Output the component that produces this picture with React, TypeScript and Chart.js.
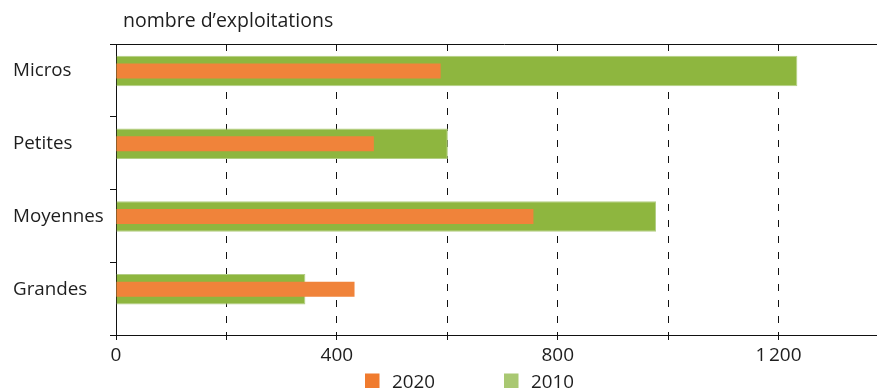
import React, { useEffect, useRef } from "react";
import { Chart, registerables } from "chart.js";

Chart.register(...registerables);

const categories = ["Micros", "Petites", "Moyennes", "Grandes"];
const values2020 = [588, 467, 756, 432];
const values2010 = [1234, 601, 978, 343];
const seriesLabels = ["2020", "2010"];
const axisTitle = "nombre d\u2019exploitations";
const tickStep = 200;
const labelStep = 400;
const xMax = 1400;

const FONT = "'Open Sans'";
const TEXT = "#1e1e1e";
const GREEN = "#8EB63F";
const GREEN_EDGE = "#B3CE84";
const ORANGE = "#F0833A";
const LEGEND_GREEN = "#A9C872";
const LEGEND_ORANGE = "#F07B2E";
const BAR_SHIFT = -9.4;

function fmt(v: number): string {
  const s = String(Math.round(v));
  return s.replace(/\B(?=(\d{3})+(?!\d))/g, "\u202F");
}

export default function App() {
  const ref = useRef<HTMLCanvasElement | null>(null);
  useEffect(() => {
    if (!ref.current) return;
    const shiftBars = {
      id: "shiftBars",
      afterDatasetsUpdate(chart: any) {
        chart.getSortedVisibleDatasetMetas().forEach((meta: any) => {
          meta.data.forEach((el: any) => {
            el.y += BAR_SHIFT;
          });
        });
      },
    };
    const decor = {
      id: "decor",
      afterDraw(chart: any) {
        const ctx = chart.ctx;
        const a = chart.chartArea;
        ctx.save();
        ctx.strokeStyle = "#111";
        ctx.lineWidth = 1;
        ctx.beginPath();
        ctx.moveTo(a.left, Math.round(a.top) + 0.5);
        ctx.lineTo(chart.width, Math.round(a.top) + 0.5);
        ctx.stroke();
        ctx.fillStyle = TEXT;
        ctx.font = `19.5px ${FONT}`;
        ctx.textBaseline = "alphabetic";
        ctx.textAlign = "left";
        ctx.fillText(axisTitle, a.left + 7, 27);
        const items = [
          { label: seriesLabels[0], color: LEGEND_ORANGE, x: 365 },
          { label: seriesLabels[1], color: LEGEND_GREEN, x: 504 },
        ];
        for (const it of items) {
          ctx.fillStyle = it.color;
          ctx.fillRect(it.x, 373.5, 14.5, 14.5);
          ctx.fillStyle = TEXT;
          ctx.font = `18.8px ${FONT}`;
          ctx.fillText(it.label, it.x + 27, 387.5);
        }
        ctx.restore();
      },
    };
    const chart = new Chart(ref.current, {
      type: "bar",
      data: {
        labels: categories,
        datasets: [
          {
            label: seriesLabels[0],
            data: values2020,
            backgroundColor: ORANGE,
            borderWidth: 0,
            barPercentage: 0.207,
            categoryPercentage: 1,
            grouped: false,
          },
          {
            label: seriesLabels[1],
            data: values2010,
            backgroundColor: GREEN,
            borderColor: GREEN_EDGE,
            borderWidth: 1,
            barPercentage: 0.417,
            categoryPercentage: 1,
            grouped: false,
          },
        ],
      },
      options: {
        indexAxis: "y",
        animation: false,
        responsive: false,
        maintainAspectRatio: false,
        layout: { padding: { left: 13, top: 44, right: 0, bottom: 0 } },
        plugins: {
          legend: { display: false },
          tooltip: { enabled: false },
          title: { display: false },
        },
        scales: {
          x: {
            min: 0,
            max: xMax,
            afterFit(scale: any) {
              scale.height = 54;
            },
            ticks: {
              stepSize: tickStep,
              autoSkip: false,
              maxRotation: 0,
              color: TEXT,
              font: { family: FONT, size: 19 },
              padding: 4,
              callback: (v: any) => (Number(v) % labelStep === 0 ? fmt(Number(v)) : ""),
            },
            grid: {
              color: (c: any) => (c.tick && c.tick.value === 0 ? "rgba(0,0,0,0)" : "#111"),
              lineWidth: 1,
              tickLength: 5,
              tickColor: "#111",
              tickBorderDash: [],
            },
            border: { display: true, color: "#111", width: 1, dash: [7, 9] },
          },
          y: {
            afterFit(scale: any) {
              scale.width = 103;
            },
            ticks: {
              crossAlign: "far",
              color: TEXT,
              labelOffset: BAR_SHIFT,
              font: { family: FONT, size: 18.8 },
            },
            grid: {
              offset: true,
              drawOnChartArea: false,
              tickLength: 6,
              tickColor: "#111",
            },
            border: { display: true, color: "#111", width: 1 },
          },
        },
      } as any,
      plugins: [shiftBars, decor],
    });
    return () => chart.destroy();
  }, []);
  return (
    <div style={{ position: "fixed", left: 0, top: 0, width: 877, height: 389, overflow: "hidden", background: "#fff" }}>
      <canvas ref={ref} width={893} height={389} style={{ display: "block", width: 893, height: 389 }} />
    </div>
  );
}
